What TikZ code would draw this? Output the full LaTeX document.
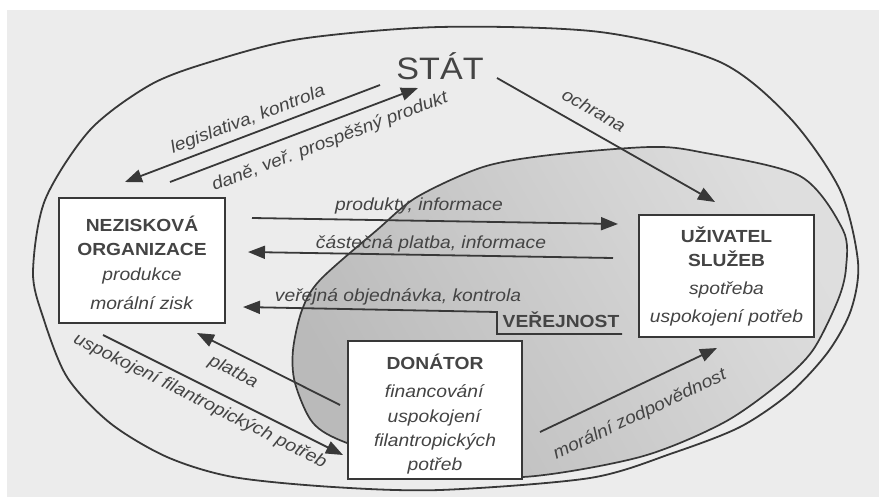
\documentclass[tikz,border=0pt]{standalone}
\usepackage{fontspec}
\setmainfont{Liberation Sans}[FakeStretch=1.1]
\usetikzlibrary{arrows.meta}
\definecolor{ink}{HTML}{383838}
\definecolor{txt}{HTML}{444444}
\definecolor{paper}{HTML}{ECECEC}
\begin{document}
\begin{tikzpicture}[x=1pt,y=-1pt,
  conn/.style={draw=ink, line width=1.8pt, -{Triangle[length=17pt,width=13pt]}},
  box/.style={draw=ink, line width=1.7pt, fill=white, align=center, inner sep=0pt,
    text=txt, font=\fontsize{17.5}{24}\selectfont},
  lbl/.style={font=\fontsize{17.5}{20}\selectfont\itshape, text=txt, inner sep=0pt},
  blbl/.style={font=\fontsize{17.5}{20}\selectfont\bfseries, text=txt, inner sep=0pt},
  big/.style={font=\fontsize{31}{31}\selectfont, text=txt, inner sep=0pt}]
\useasboundingbox (0,0) rectangle (879,497);
\fill[white] (0,0) rectangle (879,497);
\fill[paper] (7,10) rectangle (879,497);
% inner shaded area (users / public)
\shade[left color=black!27, right color=black!13, shading angle=120]
  plot[smooth cycle] coordinates {(650,147) (700,152) (800,176) (843,230) (846,268)
  (838,300) (813,350) (780,383) (723,423) (640,457) (523,477) (430,468) (347,443)
  (313,423) (295,383) (293,350) (302,310) (320,280) (377,230) (417,197) (483,167) (550,155)};
\draw[ink, line width=1.7pt]
  plot[smooth cycle] coordinates {(650,147) (700,152) (800,176) (843,230) (846,268)
  (838,300) (813,350) (780,383) (723,423) (640,457) (523,477) (430,468) (347,443)
  (313,423) (295,383) (293,350) (302,310) (320,280) (377,230) (417,197) (483,167) (550,155)};
% outer ellipse (state)
\draw[ink, line width=1.8pt]
  plot[smooth cycle] coordinates {(33,272) (45,200) (90,130) (150,85) (210,62) (300,39)
  (440,27) (600,32) (720,62) (790,118) (840,190) (858,262) (851,310) (828,352)
  (790,393) (740,427) (673,453) (590,478) (440,490) (333,487) (233,477) (167,457)
  (110,423) (67,377) (43,317)};
% nodes
\node[big] (stat) at (440,66) {STÁT};
\node[box, minimum width=166pt, minimum height=125pt] (no) at (142,260.5)
  {\rule{0pt}{21pt}\textbf{NEZISKOVÁ}\\\textbf{ORGANIZACE}\\[1pt]\textit{produkce}\\[5pt]\textit{morální zisk}};
\node[box, minimum width=175pt, minimum height=122pt] (uz) at (726.5,276)
  {\textbf{UŽIVATEL}\\\textbf{SLUŽEB}\\[4pt]\textit{spotřeba}\\[4pt]\textit{uspokojení potřeb}};
\node[box, minimum width=174pt, minimum height=138pt] (don) at (435,410)
  {\rule{0pt}{24pt}\textbf{DONÁTOR}\\[4pt]\textit{financování}\\[1pt]\textit{uspokojení}\\\textit{filantropických}\\\textit{potřeb}};
\node[blbl] (ver) at (561,320) {VEŘEJNOST};
% connector end points
\coordinate (legS) at (380,85);  \coordinate (legE) at (125,182);
\coordinate (danS) at (170,182); \coordinate (danE) at (418,88);
\coordinate (ochS) at (497,78);  \coordinate (ochE) at (715,202);
\coordinate (proS) at (252,218); \coordinate (proE) at (618,224);
\coordinate (casS) at (613,258); \coordinate (casE) at (248,252);
\coordinate (verS) at (622,334); \coordinate (verK1) at (497,334);
\coordinate (verK2) at (497,312); \coordinate (verE) at (243,307);
\coordinate (plaS) at (340,405); \coordinate (plaE) at (197,333);
\coordinate (uspS) at (103,335); \coordinate (uspE) at (343,455);
\coordinate (morS) at (540,432); \coordinate (morE) at (717,348);
% connectors
\draw[conn] (legS) -- (legE);
\draw[conn] (danS) -- (danE);
\draw[conn] (ochS) -- (ochE);
\draw[conn] (proS) -- (proE);
\draw[conn] (casS) -- (casE);
\draw[conn] (verS) -- (verK1) -- (verK2) -- (verE);
\draw[conn] (plaS) -- (plaE);
\draw[conn] (uspS) -- (uspE);
\draw[conn] (morS) -- (morE);
% labels
\node[lbl, rotate=20.8] (l1) at (248,120) {legislativa, kontrola};
\node[lbl, rotate=20.8] (l2) at (330,142) {daně, veř. prospěšný produkt};
\node[lbl, rotate=-29.6] (l3) at (594,110) {ochrana};
\node[lbl] (l4) at (419,206) {produkty, informace};
\node[lbl] (l5) at (431,244) {částečná platba, informace};
\node[lbl] (l6) at (398,297) {veřejná objednávka, kontrola};
\node[lbl, rotate=-26.7] (l7) at (233,372) {platba};
\node[lbl, rotate=-26.6] (l8) at (200,401) {uspokojení filantropických potřeb};
\node[lbl, rotate=25.4] (l9) at (640,415) {morální zodpovědnost};
\end{tikzpicture}
\end{document}
